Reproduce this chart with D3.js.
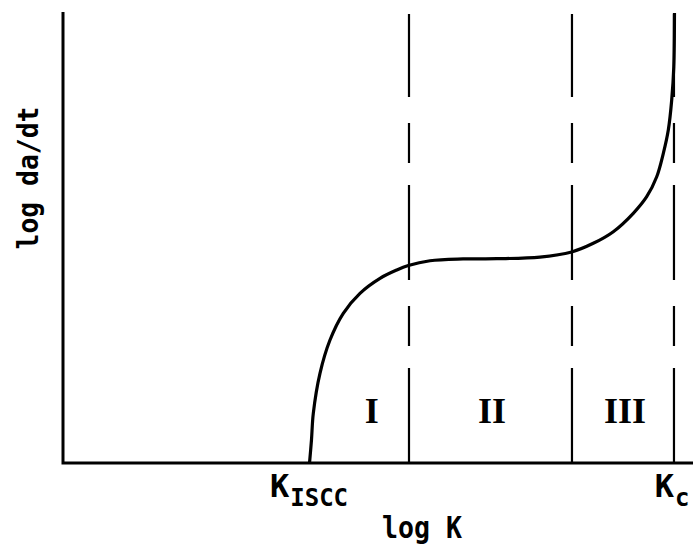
<!DOCTYPE html>
<html>
<head>
<meta charset="utf-8">
<script src="https://cdn.jsdelivr.net/npm/d3@7"></script>
<style>
  body { margin: 0; background: #fff; }
  svg { display: block; }
  .lbl { font-family: "DejaVu Sans Mono", monospace; font-weight: bold; fill: #000; }
  .roman { font-family: "Liberation Serif", serif; font-weight: bold; fill: #000; }
</style>
</head>
<body>
<div id="chart"></div>
<script>
// schematic log K vs log da/dt, arbitrary units (0..10 on both axes)
var curveK    = [3.913, 3.944, 3.973, 4.079, 4.238, 4.449, 4.714, 5.032, 5.297, 5.481, 5.825, 6.349, 6.889, 7.571, 8.074, 8.417, 8.735, 9.052, 9.265, 9.424, 9.529, 9.608, 9.662, 9.695, 9.706]
var curveRate = [0.000, 0.511, 1.104, 1.993, 2.733, 3.327, 3.771, 4.104, 4.289, 4.389, 4.495, 4.535, 4.540, 4.575, 4.690, 4.882, 5.140, 5.549, 5.918, 6.362, 6.882, 7.400, 8.067, 8.800, 10.00]

var boundaries = [5.492, 8.079, 9.698]          // region limits (dashed)
var regionNames = ["I", "II", "III"]
var regionCenters = [4.90, 6.81, 8.92]
var kTicks = [{main: "K", sub: "ISCC", k: 3.905}, {main: "K", sub: "c", k: 9.67}]

var width = 693, height = 546
var svg = d3.select("#chart").append("svg")
  .attr("width", width)
  .attr("height", height)

var x = d3.scaleLinear().domain([0, 10]).range([63, 693])
var y = d3.scaleLinear().domain([0, 10]).range([463, 13])

// dashed region boundaries, drawn from the axis up
svg.selectAll(".bound")
  .data(boundaries)
  .enter().append("line")
    .attr("class", "bound")
    .attr("x1", function(d) { return x(d) })
    .attr("x2", function(d) { return x(d) })
    .attr("y1", y(0))
    .attr("y2", y(9.98))
    .style("stroke", "#000")
    .style("stroke-width", 2.2)
    .style("stroke-dasharray", "95,22,40,26")

// crack growth curve
var pts = curveK.map(function(k, i) { return [k, curveRate[i]] })
var line = d3.line()
  .x(function(d) { return x(d[0]) })
  .y(function(d) { return y(d[1]) })
  .curve(d3.curveCatmullRom.alpha(0.5))

svg.append("path")
  .datum(pts)
  .attr("d", line)
  .style("fill", "none")
  .style("stroke", "#000")
  .style("stroke-width", 3.2)

// axes (no ticks, just the frame lines)
svg.append("path")
  .attr("d", "M" + x(0) + "," + y(10.02) + "V" + y(0) + "H" + x(10))
  .style("fill", "none")
  .style("stroke", "#000")
  .style("stroke-width", 3)

// region numerals
svg.selectAll(".roman")
  .data(regionNames)
  .enter().append("text")
    .attr("class", "roman")
    .attr("x", function(d, i) { return x(regionCenters[i]) })
    .attr("y", y(0.9))
    .attr("text-anchor", "middle")
    .style("font-size", "36px")
    .text(function(d) { return d })

// K labels under the axis
var kl = svg.selectAll(".klbl")
  .data(kTicks)
  .enter().append("text")
    .attr("class", "lbl klbl")
    .attr("x", function(d) { return x(d.k) })
    .attr("y", 497)
    .attr("text-anchor", "middle")
kl.append("tspan")
  .style("font-size", "32px")
  .text(function(d) { return d.main })
kl.append("tspan")
  .attr("dy", 9)
  .attr("dx", 1)
  .style("font-size", "24px")
  .text(function(d) { return d.sub })

svg.append("text")
  .attr("class", "lbl")
  .attr("x", 422)
  .attr("y", 538)
  .attr("text-anchor", "middle")
  .attr("textLength", 80)
  .attr("lengthAdjust", "spacingAndGlyphs")
  .style("font-size", "31px")
  .text("log K")

svg.append("text")
  .attr("class", "lbl")
  .attr("transform", "translate(38,178)rotate(-90)")
  .attr("text-anchor", "middle")
  .attr("textLength", 143)
  .attr("lengthAdjust", "spacingAndGlyphs")
  .style("font-size", "29px")
  .text("log da/dt")
</script>
</body>
</html>
